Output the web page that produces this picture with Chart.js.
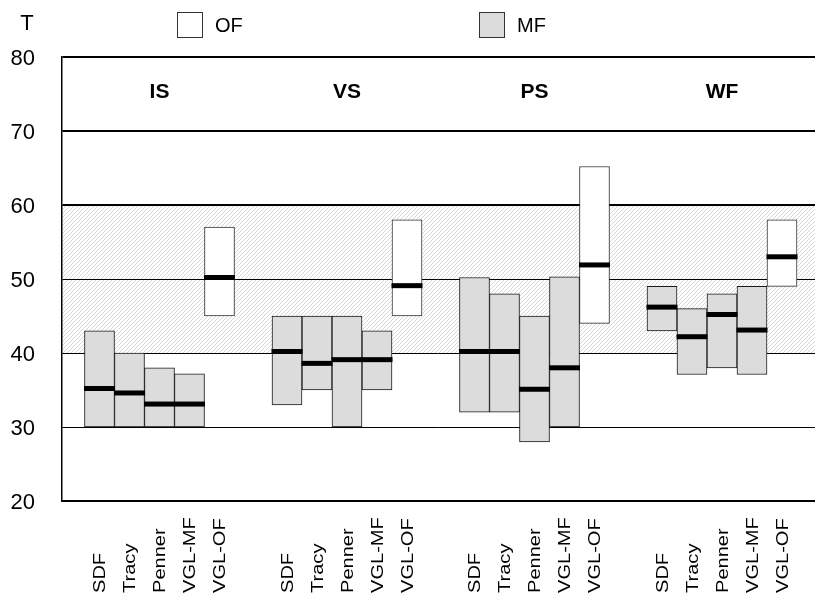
<!DOCTYPE html>
<html>
<head>
<meta charset="utf-8">
<script src="https://cdn.jsdelivr.net/npm/chart.js@4/dist/chart.umd.min.js"></script>
<style>
  html, body { margin: 0; padding: 0; background: #ffffff; }
  #wrap { width: 815px; height: 593px; }
</style>
</head>
<body>
<div id="wrap"><canvas id="chart" width="815" height="593"></canvas></div>
<script>
// Scale groups and the methods shown inside each group
const groups = ['IS', 'VS', 'PS', 'WF'];
const methods = ['SDF', 'Tracy', 'Penner', 'VGL-MF', 'VGL-OF'];

// T-score ranges per group (rows) and method (columns)
const lowValues = [
  [30, 30, 30, 30, 45],
  [33, 35, 30, 35, 45],
  [32, 32, 28, 30, 44],
  [43, 37.1, 38, 37.1, 49]
];
const highValues = [
  [43, 40, 38, 37.2, 57],
  [45, 45, 45, 43, 58],
  [50.2, 48, 45, 50.3, 65.2],
  [49, 46, 48, 49, 58]
];
const medianValues = [
  [35.2, 34.6, 33.1, 33.1, 50.2],
  [40.2, 38.6, 39.1, 39.1, 49.1],
  [40.2, 40.2, 35.1, 38, 51.9],
  [46.2, 42.2, 45.2, 43.1, 53]
];

// Y axis ticks and the shaded normal band
const yTicks = [20, 30, 40, 50, 60, 70, 80];
const normalBand = [40, 60];
const axisTitle = 'T';

// Which methods are OF-type (white) versus MF-type (gray)
const ofMethods = ['VGL-OF'];

// Horizontal layout: each box is one unit wide, groups are spaced apart
const GROUP_STRIDE = 6.25;
const xPos = (g, i) => g * GROUP_STRIDE + i;

const mfData = [], ofData = [], medData = [], barPositions = [];
groups.forEach((gName, g) => {
  methods.forEach((m, i) => {
    const pt = { x: xPos(g, i), y: [lowValues[g][i], highValues[g][i]] };
    (ofMethods.includes(m) ? ofData : mfData).push(pt);
    medData.push({ x: xPos(g, i), y: medianValues[g][i] });
    barPositions.push({ x: xPos(g, i), label: m });
  });
});

const FONT = '"Liberation Sans", Arial, sans-serif';

// Diagonal hatch used for the 40-60 band
function makeHatch(ctx) {
  const c = document.createElement('canvas');
  c.width = 4; c.height = 4;
  const p = c.getContext('2d');
  p.fillStyle = '#ffffff';
  p.fillRect(0, 0, 4, 4);
  p.strokeStyle = '#d2d2d2';
  p.lineWidth = 0.9;
  p.beginPath();
  p.moveTo(-1, 5); p.lineTo(5, -1);
  p.moveTo(-1, 1); p.lineTo(1, -1);
  p.moveTo(3, 5); p.lineTo(5, 3);
  p.stroke();
  return ctx.createPattern(c, 'repeat');
}

const decorations = {
  id: 'decorations',
  beforeDraw(chart) {
    const { ctx, chartArea, scales } = chart;
    const yTop = scales.y.getPixelForValue(normalBand[1]);
    const yBot = scales.y.getPixelForValue(normalBand[0]);
    ctx.save();
    ctx.fillStyle = makeHatch(ctx);
    ctx.fillRect(chartArea.left, yTop, chartArea.right - chartArea.left, yBot - yTop);
    ctx.restore();
  },
  afterDraw(chart) {
    const { ctx, scales } = chart;
    ctx.save();
    ctx.fillStyle = '#000';

    // axis title
    ctx.font = '22px ' + FONT;
    ctx.textAlign = 'center';
    ctx.textBaseline = 'middle';
    ctx.fillText(axisTitle, 27, 24);

    // legend
    const legendItems = [
      { ds: chart.data.datasets[1], x: 177 },
      { ds: chart.data.datasets[0], x: 479 }
    ];
    legendItems.forEach(it => {
      ctx.fillStyle = it.ds.backgroundColor;
      ctx.fillRect(it.x, 12, 26, 26);
      ctx.strokeStyle = '#333';
      ctx.lineWidth = 1;
      ctx.strokeRect(it.x + 0.5, 12.5, 25, 25);
      ctx.fillStyle = '#000';
      ctx.font = '20px ' + FONT;
      ctx.textAlign = 'left';
      ctx.fillText(it.ds.label, it.x + 38, 26);
    });

    // group titles
    ctx.font = 'bold 21px ' + FONT;
    ctx.textAlign = 'center';
    groups.forEach((gName, g) => {
      const cx = scales.x.getPixelForValue(xPos(g, (methods.length - 1) / 2));
      ctx.fillText(gName, cx, 92);
    });

    // rotated method labels under each box
    ctx.font = '17px ' + FONT;
    ctx.textAlign = 'left';
    ctx.textBaseline = 'middle';
    barPositions.forEach(b => {
      const px = scales.x.getPixelForValue(b.x);
      ctx.save();
      ctx.translate(px + 1, 593);
      ctx.rotate(-Math.PI / 2);
      ctx.scale(1.18, 1);
      ctx.fillText(b.label, 0, 0);
      ctx.restore();
    });
    ctx.restore();
  }
};

new Chart(document.getElementById('chart'), {
  type: 'bar',
  data: {
    datasets: [
      {
        label: 'MF',
        data: mfData,
        backgroundColor: '#dcdcdc',
        borderColor: '#1a1a1a',
        borderWidth: 1,
        borderSkipped: false,
        grouped: false,
        categoryPercentage: 1,
        barPercentage: 1,
        order: 1
      },
      {
        label: 'OF',
        data: ofData,
        backgroundColor: '#ffffff',
        borderColor: '#333333',
        borderWidth: 1,
        borderSkipped: false,
        grouped: false,
        categoryPercentage: 1,
        barPercentage: 1,
        order: 1
      },
      {
        type: 'scatter',
        label: 'median',
        data: medData,
        showLine: false,
        pointStyle: 'line',
        pointRadius: 15.5,
        pointHoverRadius: 15.5,
        pointBorderWidth: 5,
        pointHoverBorderWidth: 5,
        borderColor: '#000',
        backgroundColor: '#000',
        order: 0
      }
    ]
  },
  options: {
    responsive: false,
    animation: false,
    events: [],
    layout: { autoPadding: false, padding: { top: 57, left: 0, right: 0, bottom: 0 } },
    plugins: { legend: { display: false }, tooltip: { enabled: false } },
    scales: {
      x: {
        type: 'linear',
        offset: false,
        min: -1.25,
        max: 23.85,
        grid: { display: false },
        border: { display: true, color: '#000', width: 1.5 },
        ticks: { display: false },
        afterBuildTicks: scale => { scale.ticks = barPositions.map(b => ({ value: b.x })); },
        afterFit: scale => { scale.height = 92; }
      },
      y: {
        min: yTicks[0],
        max: yTicks[yTicks.length - 1],
        afterBuildTicks: scale => { scale.ticks = yTicks.map(v => ({ value: v })); },
        afterFit: scale => { scale.width = 62; },
        border: { display: true, color: '#000', width: 1.5 },
        grid: {
          drawTicks: false,
          color: '#000',
          lineWidth: c => (c.tick && c.tick.value >= 60 ? 2 : 1)
        },
        ticks: {
          padding: 27,
          labelOffset: 2,
          color: '#000',
          font: { family: FONT, size: 22 }
        }
      }
    }
  },
  plugins: [decorations]
});
</script>
</body>
</html>
